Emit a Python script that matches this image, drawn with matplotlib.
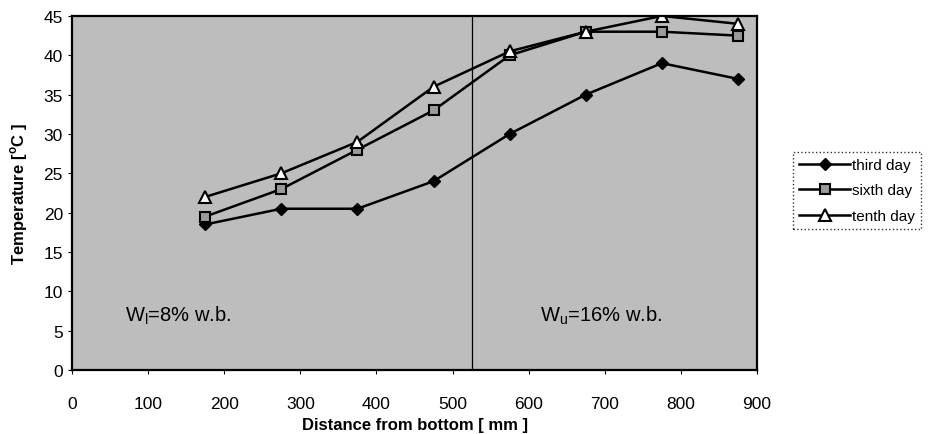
import matplotlib
matplotlib.use("Agg")
import matplotlib.pyplot as plt

plt.rcParams['font.family'] = ['Liberation Sans', 'DejaVu Sans']

distance = [175, 275, 375, 475, 575, 675, 775, 875]
third_day = [18.5, 20.5, 20.5, 24, 30, 35, 39, 37]
sixth_day = [19.5, 23, 28, 33, 40, 43, 43, 42.5]
tenth_day = [22, 25, 29, 36, 40.5, 43, 45, 44]
boundary_x = 525
labels = ["third day", "sixth day", "tenth day"]

fig = plt.figure(figsize=(9.3, 4.35), dpi=100)
ax = fig.add_axes([0.0774, 0.147, 0.7366, 0.814])
ax.set_facecolor('#bdbdbd')

ax.plot(distance, third_day, color='black', lw=1.8, marker='D', ms=6,
        mfc='black', mec='black', label=labels[0])
ax.plot(distance, sixth_day, color='black', lw=1.8, marker='s', ms=7,
        mfc='#9a9a9a', mec='black', mew=1.5, label=labels[1])
ax.plot(distance, tenth_day, color='black', lw=1.8, marker='^', ms=8,
        mfc='white', mec='black', mew=1.5, label=labels[2])

ax.axvline(boundary_x, color='black', lw=0.9)

ax.text(70, 7, "W$_\\mathregular{l}$=8% w.b.", fontsize=14.5, va='center', ha='left')
ax.text(615, 7, "W$_\\mathregular{u}$=16% w.b.", fontsize=14.5, va='center', ha='left')

ax.set_xlim(0, 900)
ax.set_ylim(0, 45)
ax.set_xticks(range(0, 901, 100))
ax.set_yticks(range(0, 46, 5))
ax.tick_params(axis='both', labelsize=12.5, length=3, direction='out')
ax.tick_params(axis='x', pad=16)
for s in ax.spines.values():
    s.set_linewidth(1.6)

ax.set_xlabel("Distance from bottom [ mm ]", fontsize=12, fontweight='bold', labelpad=4)
ax.set_ylabel("Temperature [$^\\mathregular{o}$C ]", fontsize=12, fontweight='bold', labelpad=10)

leg = fig.legend(loc='center left', bbox_to_anchor=(0.853, 0.56), fontsize=11,
                 frameon=True, fancybox=False, handlelength=3.3, handletextpad=0.15,
                 borderpad=0.4, labelspacing=0.75, borderaxespad=0)
leg.get_frame().set_edgecolor('black')
leg.get_frame().set_linestyle(':')
leg.get_frame().set_linewidth(1.0)

fig.savefig("out.png", dpi=100)
